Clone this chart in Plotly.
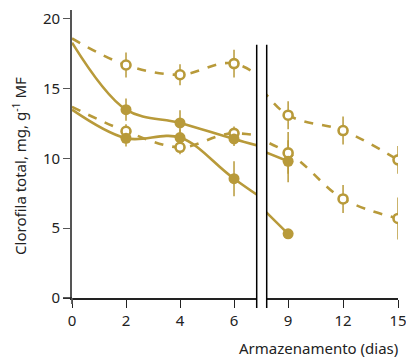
import plotly.graph_objects as go

days = [0, 2, 4, 6, 9, 12, 15]
open_top = [18.6, 16.7, 16.0, 16.8, 13.1, 12.0, 9.9]
open_top_err = [0, 0.9, 0.75, 1.0, 1.0, 1.0, 1.0]
open_low = [13.7, 11.95, 10.8, 11.8, 10.4, 7.1, 5.7]
open_low_err = [0, 0.5, 0.5, 0.5, 1.5, 1.0, 1.5]

days_f = [0, 2, 4, 6, 9]
filled_top = [18.3, 13.5, 12.55, 11.4, 9.8]
filled_top_err = [0, 0.8, 0.9, 0.5, 1.5]
filled_low = [13.5, 11.45, 11.5, 8.55, 4.6]
filled_low_err = [0, 0.6, 0.6, 1.25, 0]

left_ticks = [0, 2, 4, 6]
right_ticks = [9, 12, 15]
y_ticks = [0, 5, 10, 15, 20]

GOLD = "#B89A3A"
FONT = "Noto Sans"

series = [
    (days, open_top, open_top_err, False, True),
    (days, open_low, open_low_err, False, True),
    (days_f, filled_top, filled_top_err, True, False),
    (days_f, filled_low, filled_low_err, True, False),
]

fig = go.Figure()

# lines + error bars first
for x, y, err, filled, dashed in series:
    for xa in ["x", "x2"]:
        fig.add_trace(go.Scatter(
            x=x, y=y, xaxis=xa, yaxis="y", mode="lines",
            line=dict(color=GOLD, width=2.6, shape="spline", smoothing=1,
                      dash="dash" if dashed else "solid"),
            error_y=dict(type="data", array=err, visible=True, color=GOLD,
                         thickness=1.5, width=0),
            showlegend=False, hoverinfo="skip",
        ))

# markers on top
for x, y, err, filled, dashed in series:
    msize = 11 if filled else 9
    for xa in ["x", "x2"]:
        fig.add_trace(go.Scatter(
            x=x[1:], y=y[1:], xaxis=xa, yaxis="y", mode="markers",
            marker=dict(size=msize, color=GOLD if filled else "white",
                        line=dict(color=GOLD, width=2.6 if not filled else 0),
                        symbol="circle"),
            showlegend=False, hoverinfo="skip",
        ))

# page body has an 8px margin: work in window pixels, convert
OFF = 8
W, H = 414 - OFF, 359 - OFF
L, R, T, B = 72 - OFF, 16, 0, 359 - 298
pw = W - L - R
ph = H - T - B
left_end = (256.7 - 72) / pw
right_start = (266.7 - 72) / pw

def py(pix):
    return (298 - pix) / ph

def px(pix):
    return (pix - 72) / pw

axis_common = dict(showgrid=False, zeroline=False, showline=True, linecolor="#222",
                   linewidth=1.5, ticks="outside", ticklen=8, tickwidth=1.3,
                   tickcolor="#222", tickfont=dict(family=FONT, size=15, color="#222"))

fig.update_layout(
    width=W, height=H,
    margin=dict(l=L, r=R, t=T, b=B),
    plot_bgcolor="white", paper_bgcolor="white",
    xaxis=dict(domain=[0, left_end], range=[0, 6.84], tickvals=left_ticks,
               anchor="y", **axis_common),
    xaxis2=dict(domain=[right_start, 1], range=[7.83, 15], tickvals=right_ticks,
                anchor="y", **axis_common),
    yaxis=dict(range=[0, (298 - 8) / 14.05], tickvals=y_ticks, showgrid=False,
               zeroline=False, showline=True, linecolor="#555", linewidth=1.8,
               ticks="outside", ticklen=7, tickwidth=1.3, tickcolor="#555",
               ticklabeloverflow="allow",
               tickfont=dict(family=FONT, size=15, color="#222"), anchor="x"),
    font=dict(family=FONT, color="#222"),
)

shapes = []
for xr, xv in [("x domain", 1), ("x2 domain", 0)]:
    shapes.append(dict(type="line", xref=xr, yref="paper", x0=xv, x1=xv,
                       y0=py(308), y1=py(43), line=dict(color="black", width=1.5)))
shapes.append(dict(type="line", xref="paper", yref="paper", x0=px(63), x1=0,
                   y0=0, y1=0, line=dict(color="#222", width=1.5)))
shapes.append(dict(type="line", xref="paper", yref="paper", x0=0, x1=0,
                   y0=py(304), y1=0, line=dict(color="#555", width=1.8)))
fig.update_layout(shapes=shapes)

fig.add_annotation(text="Clorofila total, mg, g<sup>-1</sup> MF", xref="paper", yref="paper",
                   x=px(20), y=py(165), textangle=-90, showarrow=False,
                   font=dict(family=FONT, size=15, color="#222"),
                   xanchor="center", yanchor="middle")
fig.add_annotation(text="Armazenamento (dias)", xref="paper", yref="paper",
                   x=px(400), y=py(348), showarrow=False,
                   font=dict(family=FONT, size=15, color="#222"),
                   xanchor="right", yanchor="middle")

fig.write_html("out.html")
